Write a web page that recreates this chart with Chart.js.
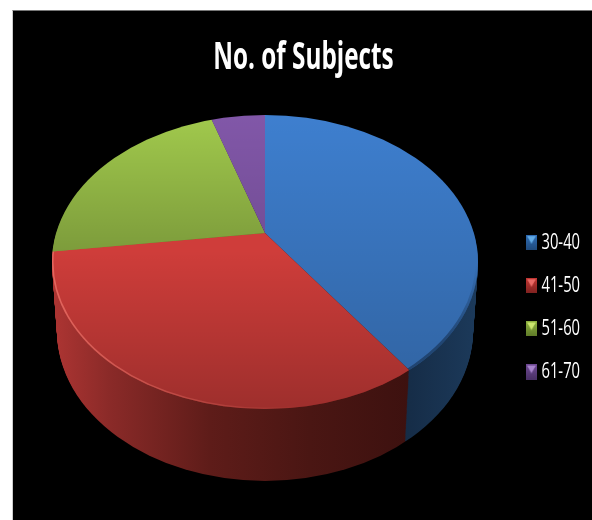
<!DOCTYPE html>
<html>
<head>
<meta charset="utf-8">
<title>No. of Subjects</title>
<script src="https://cdn.jsdelivr.net/npm/chart.js@4"></script>
<style>
  html, body { margin: 0; padding: 0; background: #fff; }
  #panel { position: absolute; left: 12px; top: 10px; right: 0; bottom: 0; background: #000;
           border-top: 1px solid #777; border-left: 1px solid #ccc; }
  #wrap { position: absolute; left: 0; top: 0; width: 592px; height: 520px; }
</style>
</head>
<body>
<div id="panel"></div>
<div id="wrap"><canvas id="pie"></canvas></div>
<script>
const ageGroups = ["30-40", "41-50", "51-60", "61-70"];
const subjects = [40, 33, 22, 5];

const topColors = ["#3e7fcf", "#cf3d3a", "#a0c84c", "#8157a8"];
const wallStops = [
  [[400, "#152b45"], [480, "#1c3a5b"]],
  [[52, "#ae3533"], [110, "#8a2a28"], [210, "#5e1c19"], [310, "#4a1613"], [410, "#3d110f"]],
  [[50, "#6d8a33"], [260, "#4d6224"]],
  [[210, "#4a3163"], [270, "#3a264e"]]
];
// vertical darkening on the lid of each slice: [from y, to y, alpha at the bottom]
const lidShade = [[115, 370, 0.2], [250, 410, 0.24], [120, 250, 0.22], [115, 235, 0.1]];
const markerColors = [
  ["#62abe6", "#2f6db5", "#1f4a7c"],
  ["#ea6a66", "#c23633", "#7f2220"],
  ["#cbe66e", "#8fb240", "#5e7a28"],
  ["#a884cc", "#6f4a94", "#4a3066"]
];

// lid of the disc and the bottom of its wall, in canvas pixels
const lid = { x: 265, y: 262, rx: 213, ry: 147, apexY: 233 };
const base = { rx: 208, ry: 150, depth: 69 };
const wedgeReach = 1.45;

function makeMarker(colors) {
  const c = document.createElement("canvas");
  c.width = 12;
  c.height = 12;
  const g = c.getContext("2d");
  const fill = g.createLinearGradient(0, 0, 0, 12);
  fill.addColorStop(0, colors[1]);
  fill.addColorStop(1, colors[2]);
  g.fillStyle = fill;
  g.fillRect(0, 0, 12, 12);
  g.fillStyle = colors[0];
  g.beginPath();
  g.moveTo(1, 1);
  g.lineTo(11, 1);
  g.lineTo(6, 7);
  g.closePath();
  g.fill();
  return c;
}
const markers = markerColors.map(makeMarker);

function wedge(ctx, arc, cy, rx, ry) {
  ctx.beginPath();
  ctx.moveTo(lid.x, cy);
  ctx.ellipse(lid.x, cy, rx * wedgeReach, ry * wedgeReach, 0, arc.startAngle, arc.endAngle);
  ctx.closePath();
}

// title and legend text is tall and narrow, so those boxes get squeezed when drawn
function squeezeBox(chart, box, dx, dy, sx, sy) {
  const draw = box.draw;
  box.draw = function (area) {
    const ctx = chart.ctx;
    ctx.save();
    ctx.translate(dx, dy);
    ctx.scale(sx, sy);
    draw.call(box, area);
    ctx.restore();
  };
}

const discPlugin = {
  id: "disc",
  afterLayout(chart) {
    if (chart.$squeezed) return;
    chart.$squeezed = true;
    squeezeBox(chart, chart.titleBlock, 63.7, 10, 0.81, 1.27);
    squeezeBox(chart, chart.legend, 73.7, -23, 0.87, 1.27);
  },
  beforeDatasetsDraw(chart) {
    const ctx = chart.ctx;
    const arcs = chart.getDatasetMeta(0).data;

    // wall: stack of slices, from the bottom up
    const wallFills = wallStops.map(stops => {
      const g = ctx.createLinearGradient(stops[0][0], 0, stops[stops.length - 1][0], 0);
      const span = stops[stops.length - 1][0] - stops[0][0];
      stops.forEach(s => g.addColorStop((s[0] - stops[0][0]) / span, s[1]));
      return g;
    });
    for (let d = base.depth; d > 0; d--) {
      const t = d / base.depth;
      const rx = lid.rx + (base.rx - lid.rx) * t;
      const ry = lid.ry + (base.ry - lid.ry) * t;
      ctx.save();
      ctx.beginPath();
      ctx.ellipse(lid.x, lid.y + d, rx, ry, 0, 0, Math.PI * 2);
      ctx.clip();
      arcs.forEach((arc, i) => {
        ctx.fillStyle = wallFills[i];
        wedge(ctx, arc, lid.apexY + d, rx, ry);
        ctx.fill();
      });
      ctx.restore();
    }

    // the library's arcs become the lid
    const first = arcs[0];
    ctx.save();
    ctx.beginPath();
    ctx.ellipse(lid.x, lid.y, lid.rx, lid.ry, 0, 0, Math.PI * 2);
    ctx.clip();
    ctx.translate(lid.x, lid.apexY);
    ctx.scale(lid.rx * wedgeReach / first.outerRadius, lid.ry * wedgeReach / first.outerRadius);
    ctx.translate(-first.x, -first.y);
  },
  afterDatasetsDraw(chart) {
    const ctx = chart.ctx;
    const arcs = chart.getDatasetMeta(0).data;
    ctx.restore();

    arcs.forEach((arc, i) => {
      ctx.save();
      ctx.beginPath();
      ctx.ellipse(lid.x, lid.y, lid.rx, lid.ry, 0, 0, Math.PI * 2);
      ctx.clip();
      wedge(ctx, arc, lid.apexY, lid.rx, lid.ry);
      ctx.clip();
      const shade = lidShade[i];
      const g = ctx.createLinearGradient(0, shade[0], 0, shade[1]);
      g.addColorStop(0, "rgba(0,0,0,0)");
      g.addColorStop(1, "rgba(0,0,0," + shade[2] + ")");
      ctx.fillStyle = g;
      ctx.fillRect(0, 0, chart.width, chart.height);

      // rim along the front edge of the lid
      if (i < 2) {
        let rim;
        if (i === 1) {
          rim = ctx.createLinearGradient(52, 0, 300, 0);
          rim.addColorStop(0, "rgba(240,120,110,0.7)");
          rim.addColorStop(1, "rgba(240,120,110,0)");
        } else {
          rim = ctx.createLinearGradient(0, 265, 0, 340);
          rim.addColorStop(0, "rgba(15,35,60,0)");
          rim.addColorStop(1, "rgba(15,35,60,0.5)");
        }
        ctx.strokeStyle = rim;
        ctx.lineWidth = i === 1 ? 3 : 5;
        ctx.beginPath();
        ctx.ellipse(lid.x, lid.y, lid.rx, lid.ry, 0, 0, Math.PI * 2);
        ctx.stroke();
      }
      ctx.restore();
    });
  }
};

new Chart(document.getElementById("pie"), {
  type: "pie",
  data: {
    labels: ageGroups,
    datasets: [{
      data: subjects,
      backgroundColor: topColors,
      borderWidth: 0
    }]
  },
  options: {
    responsive: true,
    maintainAspectRatio: false,
    animation: false,
    plugins: {
      tooltip: { enabled: false },
      title: {
        display: true,
        text: "No. of Subjects",
        color: "#fff",
        font: { family: "'Open Sans', sans-serif", size: 30, weight: "bold" },
        padding: { top: 20, bottom: 10 }
      },
      legend: {
        position: "right",
        labels: {
          color: "#fff",
          font: { family: "'Open Sans', sans-serif", size: 17 },
          usePointStyle: true,
          pointStyleWidth: 6,
          padding: 17,
          generateLabels(chart) {
            return ageGroups.map((name, i) => ({
              text: name,
              fontColor: "#fff",
              pointStyle: markers[i],
              lineWidth: 0,
              index: i
            }));
          }
        }
      }
    }
  },
  plugins: [discPlugin]
});
</script>
</body>
</html>
